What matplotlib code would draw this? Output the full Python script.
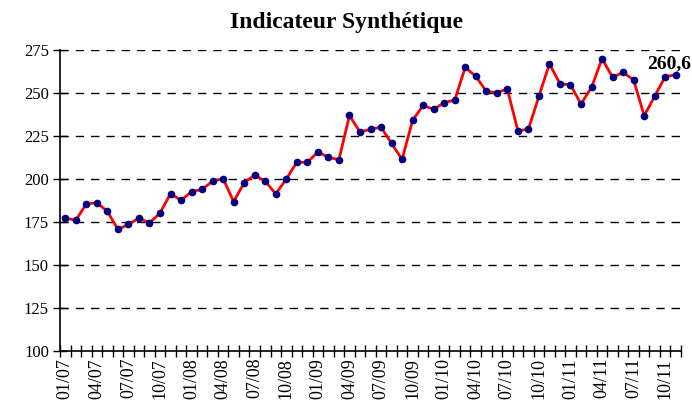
import numpy as np
import matplotlib
matplotlib.use('Agg')
import matplotlib.pyplot as plt

# monthly values, 01/07 .. 11/11
values = [177.3, 176.0, 185.5, 186.2, 181.2, 170.7, 173.6, 177.3, 174.4, 180.2,
          191.5, 187.6, 192.6, 194.0, 198.7, 200.2, 186.8, 197.9, 202.3, 198.7,
          191.3, 200.0, 209.7, 209.7, 215.7, 212.6, 211.2, 237.0, 227.3, 228.9,
          230.2, 220.7, 211.4, 234.1, 242.8, 240.5, 244.4, 245.9, 264.9, 259.7,
          251.0, 250.2, 252.3, 228.1, 228.9, 248.1, 267.0, 255.4, 254.7, 243.6,
          253.3, 270.0, 259.1, 262.0, 257.6, 236.8, 248.1, 259.5, 260.6]
months = ['%02d/%02d' % (m, y) for y in range(7, 12) for m in range(1, 13)][:len(values)]
yticks = [100, 125, 150, 175, 200, 225, 250, 275]

plt.rcParams['font.family'] = ['Liberation Serif', 'DejaVu Serif']

fig = plt.figure(figsize=(6.92, 4.12), dpi=100)
ax = fig.add_axes([60/692, 61/412, 621/692, 301/412])

x = np.arange(len(values))
ax.plot(x, values, color='#ff0000', lw=2, marker='o', ms=4.5,
        mfc='#000080', mec='#000080', zorder=3)

ax.set_xlim(-0.5, len(values) - 0.5)
ax.set_ylim(100, 275)
ax.set_yticks(yticks)
ax.set_yticklabels([str(v) for v in yticks], fontsize=12)
ax.tick_params(axis='y', direction='inout', length=10, width=1, pad=3)

ax.set_xticks(x[::3])
ax.set_xticklabels(months[::3], rotation=90, fontsize=13)
ax.set_xticks(np.arange(len(values) + 1) - 0.5, minor=True)
ax.tick_params(axis='x', which='major', length=0, pad=5)
ax.tick_params(axis='x', which='minor', direction='inout', length=9, width=1)

for v in yticks[1:]:
    ax.axhline(v, color='black', lw=1, dashes=(6, 5), zorder=1)

ax.spines['top'].set_visible(False)
ax.spines['right'].set_visible(False)
ax.spines['left'].set_linewidth(1.2)
ax.spines['bottom'].set_linewidth(1.2)

ax.annotate('260,6', xy=(x[-1], values[-1]), xytext=(11, 5), textcoords='offset points',
            ha='right', va='baseline', fontsize=14, fontweight='bold')

fig.suptitle('Indicateur Synthétique', fontsize=17, fontweight='bold', y=0.97)

fig.savefig('out.png', dpi=100)
